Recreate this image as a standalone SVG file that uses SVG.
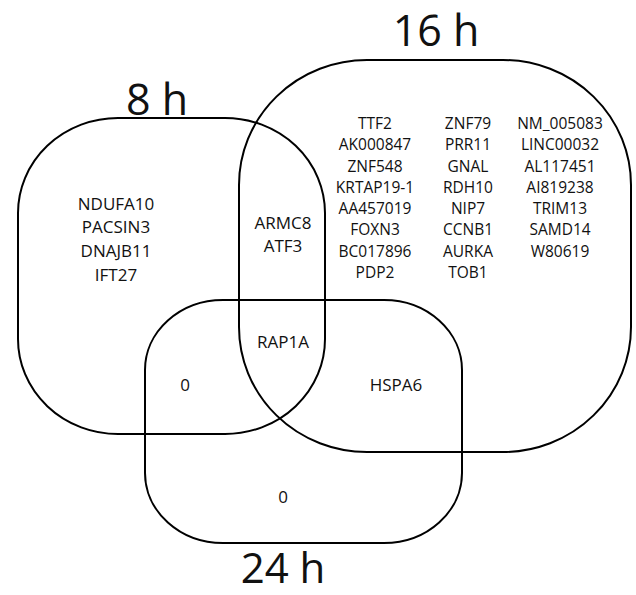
<svg xmlns="http://www.w3.org/2000/svg" width="636" height="595" viewBox="0 0 636 595">
<style>
.set{fill:none;stroke:#000;stroke-width:2}
.t{font-family:"Open Sans","Liberation Sans",sans-serif;fill:#111;text-anchor:middle}
.title{font-size:43px}
.g{font-size:17px}
.s{font-size:15.5px}
</style>
<rect width="636" height="595" fill="#fff"/>
<g id="set-8h">
<rect class="set" x="18" y="118" width="307" height="316" rx="100" ry="95"/>
<text class="t title" x="157" y="115">8 h</text>
</g>
<g id="set-16h">
<rect class="set" x="239" y="60" width="392" height="392" rx="128" ry="125"/>
<text class="t title" x="436" y="46">16 h</text>
</g>
<g id="set-24h">
<rect class="set" x="145" y="300" width="317" height="243" rx="78" ry="70"/>
<text class="t title" x="283" y="583" style="font-size:42px">24 h</text>
</g>
<g id="region-8h-only">
<text class="t g" x="116" y="210">NDUFA10</text>
<text class="t g" x="116" y="233">PACSIN3</text>
<text class="t g" x="116" y="257">DNAJB11</text>
<text class="t g" x="116" y="281">IFT27</text>
</g>
<g id="region-8h-16h">
<text class="t g" x="283" y="229">ARMC8</text>
<text class="t g" x="283" y="252">ATF3</text>
</g>
<g id="region-16h-only">
<text class="t s" x="375" y="129">TTF2</text>
<text class="t s" x="375" y="150">AK000847</text>
<text class="t s" x="375" y="172">ZNF548</text>
<text class="t s" x="375" y="193">KRTAP19-1</text>
<text class="t s" x="375" y="214">AA457019</text>
<text class="t s" x="375" y="235">FOXN3</text>
<text class="t s" x="375" y="257">BC017896</text>
<text class="t s" x="375" y="278">PDP2</text>
<text class="t s" x="468" y="129">ZNF79</text>
<text class="t s" x="468" y="150">PRR11</text>
<text class="t s" x="468" y="172">GNAL</text>
<text class="t s" x="468" y="193">RDH10</text>
<text class="t s" x="468" y="214">NIP7</text>
<text class="t s" x="468" y="235">CCNB1</text>
<text class="t s" x="468" y="257">AURKA</text>
<text class="t s" x="468" y="278">TOB1</text>
<text class="t s" x="560" y="129">NM_005083</text>
<text class="t s" x="560" y="150">LINC00032</text>
<text class="t s" x="560" y="172">AL117451</text>
<text class="t s" x="560" y="193">AI819238</text>
<text class="t s" x="560" y="214">TRIM13</text>
<text class="t s" x="560" y="235">SAMD14</text>
<text class="t s" x="560" y="257">W80619</text>
</g>
<g id="region-all">
<text class="t g" x="283" y="348">RAP1A</text>
</g>
<g id="region-8h-24h">
<text class="t g" x="185" y="391">0</text>
</g>
<g id="region-16h-24h">
<text class="t g" x="396" y="391">HSPA6</text>
</g>
<g id="region-24h-only">
<text class="t g" x="283" y="503">0</text>
</g>
<g id="connectors"></g>
</svg>
